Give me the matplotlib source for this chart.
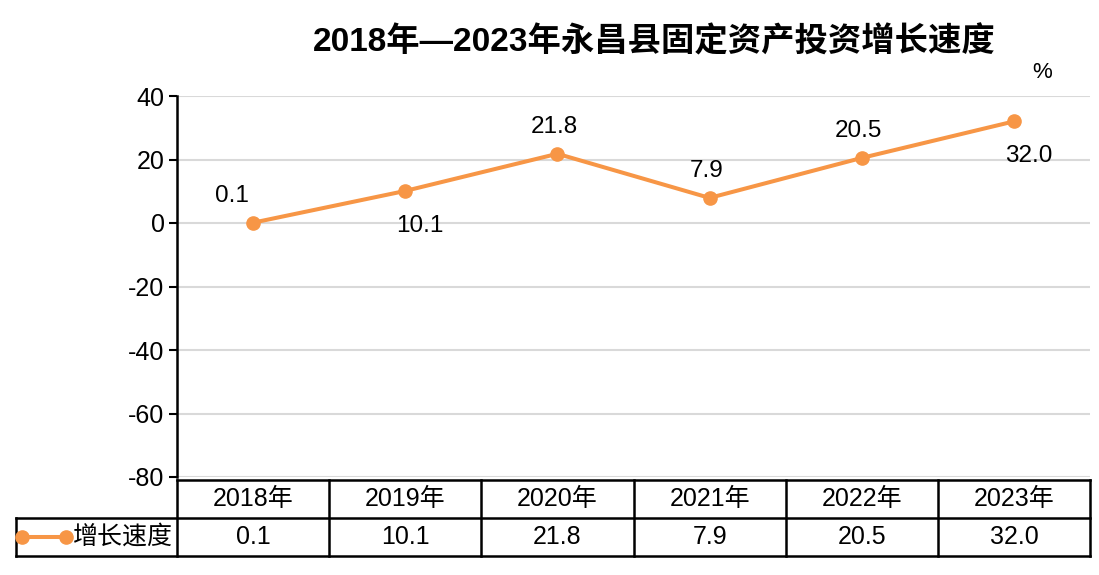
import matplotlib
matplotlib.use("Agg")
import matplotlib.pyplot as plt
import matplotlib.transforms as mtransforms

plt.rcParams['font.family'] = ['Liberation Sans', 'Noto Sans CJK SC', 'DejaVu Sans']
plt.rcParams['axes.unicode_minus'] = False

# data
years = ["2018年", "2019年", "2020年", "2021年", "2022年", "2023年"]
growth = [0.1, 10.1, 21.8, 7.9, 20.5, 32.0]
series_name = "增长速度"
label_above = [True, False, True, True, True, False]

line_color = "#F79646"

fig = plt.figure(figsize=(10.99, 5.75), dpi=100)
ax = fig.add_axes([177 / 1099, 1 - 477 / 575, (1090 - 177) / 1099, (477 - 96) / 575])

x = list(range(len(years)))
ax.plot(x, growth, color=line_color, lw=2.9, marker="o", ms=9.5, zorder=3)

for xi, v, up in zip(x, growth, label_above):
    if up:
        dx = -21 if xi == 0 else -3
        dy = 27
    else:
        dx, dy = 15, -35
    ax.annotate(f"{v:.1f}", (xi, v), xytext=(dx, dy), textcoords="offset pixels",
                ha="center", va="center", fontsize=17.5)

ax.set_xlim(-0.5, len(years) - 0.5)
ax.set_ylim(-80, 40)
ax.set_yticks(range(-80, 41, 20))
ax.tick_params(axis="y", labelsize=18, length=6, width=1.5, direction="out", pad=3)
ax.set_xticks([])
ax.grid(axis="y", color="#D9D9D9", lw=1.5)
ax.set_axisbelow(True)
for s in ["top", "right", "bottom"]:
    ax.spines[s].set_visible(False)
ax.spines["left"].set_linewidth(1.8)

# title and unit
fig.text(654 / 1099, 1 - 42 / 575, "2018年—2023年永昌县固定资产投资增长速度",
         ha="center", va="center", fontsize=24, fontweight="bold")
fig.text(1042 / 1099, 1 - 72 / 575, "%", ha="center", va="center", fontsize=16)

# data table below the axes
trans = mtransforms.blended_transform_factory(ax.transData, ax.transAxes)
ah = 477 - 96
y_top = (477 - 480) / ah
y_mid = (477 - 518) / ah
y_bot = (477 - 556) / ah
x_left = -0.5 - (177 - 16) / ((1090 - 177) / len(years))
x_right = len(years) - 0.5
kw = dict(transform=trans, color="black", lw=1.8, clip_on=False, solid_capstyle="projecting")

ax.plot([-0.5, x_right], [y_top, y_top], **kw)
ax.plot([x_left, x_right], [y_mid, y_mid], **kw)
ax.plot([x_left, x_right], [y_bot, y_bot], **kw)
ax.plot([x_left, x_left], [y_mid, y_bot], **kw)
for i in range(len(years) + 1):
    ax.plot([i - 0.5, i - 0.5], [y_top, y_bot], **kw)

for xi, yr, v in zip(x, years, growth):
    ax.text(xi, (y_top + y_mid) / 2, yr, transform=trans, ha="center", va="center", fontsize=18)
    ax.text(xi, (y_mid + y_bot) / 2, f"{v:.1f}", transform=trans, ha="center", va="center", fontsize=18)

# legend key inside the row header cell
ly = (y_mid + y_bot) / 2
px = (1090 - 177) / len(years)
ax.plot([x_left + 6 / px, x_left + 50 / px], [ly, ly], transform=trans, color=line_color,
        lw=2.9, marker="o", ms=9.5, clip_on=False)
ax.text(x_left + 57 / px, ly, series_name, transform=trans, ha="left", va="center", fontsize=18)

fig.savefig("out.png", dpi=100)
